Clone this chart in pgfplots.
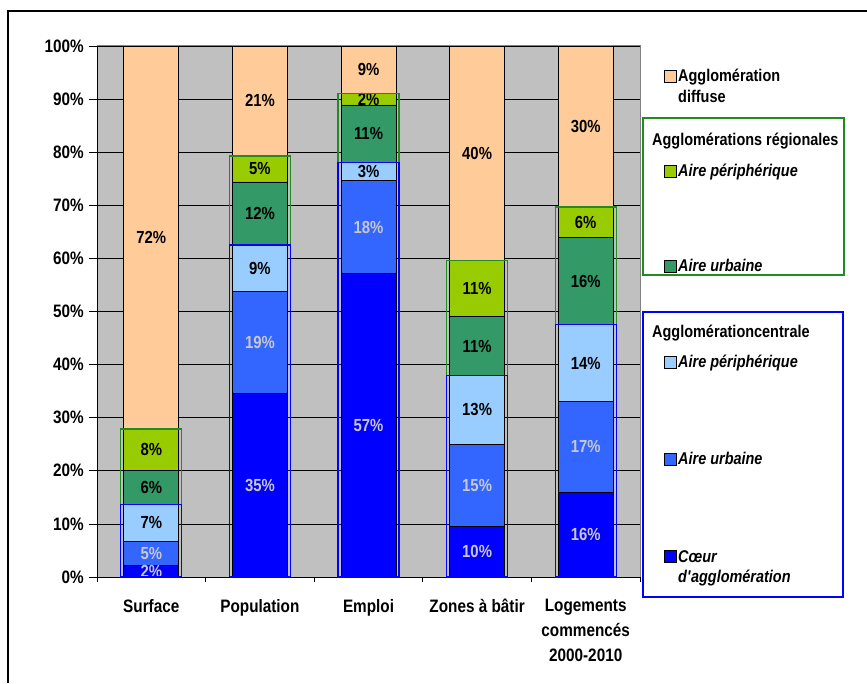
\documentclass[border=0pt]{standalone}
\usepackage{pgfplots}
\pgfplotsset{compat=1.18}
\usepackage{pgfplotstable}
\usepackage{fontspec}
\setmainfont[FakeStretch=0.85]{Liberation Sans}
\definecolor{peach}{HTML}{FFCC99}
\definecolor{ygreen}{HTML}{99CC00}
\definecolor{dgreen}{HTML}{339966}
\definecolor{lblue}{HTML}{99CCFF}
\definecolor{mblue}{HTML}{3366FF}
\definecolor{dblue}{HTML}{0000FF}
\definecolor{bggray}{HTML}{C0C0C0}
\definecolor{bordergray}{HTML}{808080}
\definecolor{lgray}{HTML}{C8C8C8}
\definecolor{boxgreen}{HTML}{228B22}
\newcommand\ticfont{\fontsize{18}{25}\selectfont\bfseries}
\newcommand\labfont{\fontsize{17.5}{19}\selectfont\bfseries}
\newcommand\legfont{\fontsize{17}{20}\selectfont\bfseries}
\pgfplotstableread{
x coeur urbc perc urbr perr diff
0 2.1 4.6 7.0 6.4 7.8 72.1
1 34.5 19.2 8.8 11.9 4.9 20.7
2 57.1 17.5 3.4 10.9 2.2 8.9
3 9.6 15.4 13.0 11.0 10.6 40.4
4 16.0 17.1 14.4 16.4 5.8 30.3
}\datatable
\pgfplotstableread{
x central regional
0 13.7 14.2
1 62.5 16.8
2 78.0 13.1
3 38.0 21.6
4 47.5 22.2
}\boxtable
\begin{document}
\begin{tikzpicture}[x=1pt,y=1pt]
\path[use as bounding box] (0,0) rectangle (867,683);
\draw[line width=2pt] (8,0) -- (8,672) -- (867,672);
\begin{axis}[
  at={(97pt,106pt)}, anchor=south west,
  scale only axis, width=543pt, height=531pt,
  xmin=-0.5, xmax=4.5, ymin=0, ymax=100,
  ybar stacked, bar width=55pt,
  axis background/.style={fill=bggray, draw=bordergray, line width=1pt},
  axis x line*=bottom, axis y line*=left,
  axis line style={black, line width=1pt},
  ytick={0,10,...,100},
  yticklabels={0\%,10\%,20\%,30\%,40\%,50\%,60\%,70\%,80\%,90\%,100\%},
  ymajorgrids, major grid style={black, line width=0.8pt},
  tick align=outside, major tick length=8pt,
  ytick style={black, line width=0.8pt},
  xtick={0,...,4},
  xticklabels={Surface, Population, Emploi, Zones à bâtir, {Logements\\commencés\\2000-2010}},
  xtick style={draw=none},
  extra x ticks={-0.5,0.5,...,4.5},
  extra x tick labels={},
  extra x tick style={xtick style={draw=black, line width=0.8pt}, major tick length=5pt, grid=none},
  tick label style={font=\ticfont},
  yticklabel style={inner sep=0pt, xshift=-5pt},
  xticklabel style={align=center, inner sep=0pt, yshift=-14pt},
  point meta=explicit,
  nodes near coords={\pgfmathprintnumber[fixed,precision=0,assume math mode=true]{\pgfplotspointmeta}\%},
  every node near coord/.append style={font=\labfont, anchor=center, inner sep=0pt},
]
\addplot[fill=dblue, draw=black, line width=0.8pt, every node near coord/.append style={text=lgray}] table[x=x,y=coeur,meta=coeur]{\datatable};
\addplot[fill=mblue, draw=black, line width=0.8pt, every node near coord/.append style={text=lgray}] table[x=x,y=urbc,meta=urbc]{\datatable};
\addplot[fill=lblue, draw=black, line width=0.8pt] table[x=x,y=perc,meta=perc]{\datatable};
\addplot[fill=dgreen, draw=black, line width=0.8pt] table[x=x,y=urbr,meta=urbr]{\datatable};
\addplot[fill=ygreen, draw=black, line width=0.8pt] table[x=x,y=perr,meta=perr]{\datatable};
\addplot[fill=peach, draw=black, line width=0.8pt] table[x=x,y=diff,meta=diff]{\datatable};
\end{axis}
\begin{axis}[
  at={(97pt,106pt)}, anchor=south west,
  scale only axis, width=543pt, height=531pt,
  xmin=-0.5, xmax=4.5, ymin=0, ymax=100,
  hide axis, clip=false,
  ybar stacked, bar width=61pt,
]
\addplot[draw=dblue, fill=none, line width=1.3pt] table[x=x,y=central]{\boxtable};
\addplot[draw=boxgreen, fill=none, line width=1.3pt] table[x=x,y=regional]{\boxtable};
\end{axis}
% legend
\draw[line width=0.8pt, fill=peach] (664,601) rectangle (676,613);
\node[anchor=base west, inner sep=0pt, font=\legfont] at (678,601) {Agglomération};
\node[anchor=base west, inner sep=0pt, font=\legfont] at (678,580) {diffuse};
\draw[draw=boxgreen, line width=1.3pt] (643,408) rectangle (844,565);
\node[anchor=base west, inner sep=0pt, font=\legfont] at (652,537) {Agglomérations régionales};
\draw[line width=0.8pt, fill=ygreen] (664,506) rectangle (676,518);
\node[anchor=base west, inner sep=0pt, font=\legfont\itshape] at (678,506) {Aire périphérique};
\draw[line width=0.8pt, fill=dgreen] (664,411) rectangle (676,423);
\node[anchor=base west, inner sep=0pt, font=\legfont\itshape] at (678,411) {Aire urbaine};
\draw[draw=dblue, line width=1.3pt] (643,86) rectangle (843,371);
\node[anchor=base west, inner sep=0pt, font=\legfont] at (652,345) {Agglomérationcentrale};
\draw[line width=0.8pt, fill=lblue] (664,315) rectangle (676,327);
\node[anchor=base west, inner sep=0pt, font=\legfont\itshape] at (678,315) {Aire périphérique};
\draw[line width=0.8pt, fill=mblue] (664,218) rectangle (676,230);
\node[anchor=base west, inner sep=0pt, font=\legfont\itshape] at (678,218) {Aire urbaine};
\draw[line width=0.8pt, fill=dblue] (664,121) rectangle (676,133);
\node[anchor=base west, inner sep=0pt, font=\legfont\itshape] at (678,121) {Cœur};
\node[anchor=base west, inner sep=0pt, font=\legfont\itshape] at (678,101) {d\textquotesingle agglomération};
\end{tikzpicture}
\end{document}
